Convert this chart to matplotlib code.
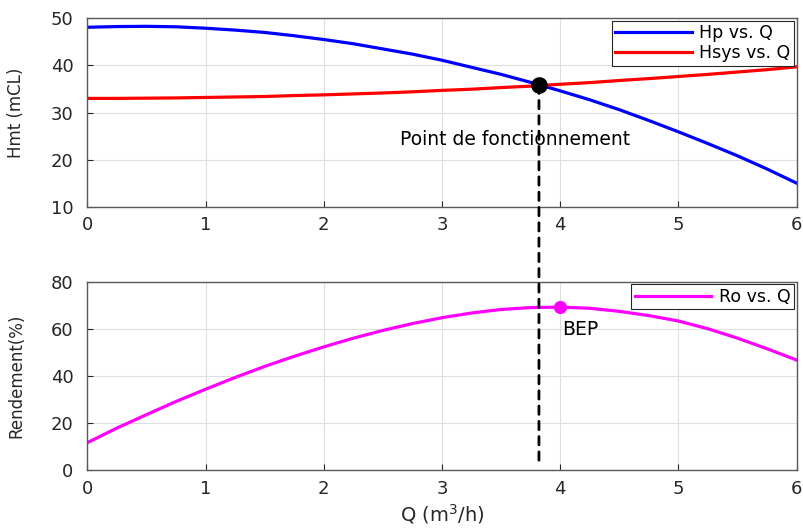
import numpy as np
import matplotlib.pyplot as plt
from matplotlib.patches import ConnectionPatch

plt.rcParams['font.family'] = ['DejaVu Sans']

# Flow rate (m3/h)
q = [0, 0.25, 0.5, 0.75, 1, 1.25, 1.5, 1.75, 2, 2.25, 2.5, 2.75, 3,
     3.25, 3.5, 3.75, 4, 4.25, 4.5, 4.75, 5, 5.25, 5.5, 5.75, 6]

# Pump head curve (mCL)
hp = [48.1, 48.25, 48.3, 48.2, 47.9, 47.5, 47.0, 46.3, 45.5, 44.6, 43.5, 42.4, 41.1,
      39.6, 38.1, 36.4, 34.6, 32.7, 30.6, 28.3, 25.9, 23.4, 20.8, 18.0, 15.0]

# System head curve (mCL)
hsys = [33.0, 33.0, 33.05, 33.1, 33.2, 33.3, 33.4, 33.6, 33.75, 33.95, 34.15, 34.4, 34.7,
        34.95, 35.3, 35.6, 36.0, 36.35, 36.8, 37.2, 37.65, 38.1, 38.6, 39.1, 39.7]

# Pump efficiency (%)
ro = [11.6, 17.8, 23.5, 29.1, 34.3, 39.3, 44.0, 48.3, 52.3, 56.0, 59.3, 62.2, 64.7,
      66.7, 68.2, 69.0, 69.2, 68.7, 67.4, 65.6, 63.3, 60.0, 56.0, 51.5, 46.7]

# Operating point and best efficiency point
q_op, h_op = 3.82, 35.8
q_bep, ro_bep = 4.0, 69.2

txt_col = '#262626'
grid_col = '#dedede'

fig = plt.figure(figsize=(8.04, 5.31), dpi=100)
ax1 = fig.add_axes([0.1086, 0.6107, 0.8823, 0.3548])
ax2 = fig.add_axes([0.1086, 0.1149, 0.8823, 0.3546])

def style(ax):
    ax.grid(True, color=grid_col, linewidth=0.8)
    ax.set_axisbelow(True)
    ax.tick_params(direction='in', length=4, labelsize=13, colors=txt_col,
                   top=False, right=False)
    ax.tick_params(axis='x', pad=7)
    ax.tick_params(axis='y', pad=10)
    for s in ax.spines.values():
        s.set_color('#5a5a5a')
        s.set_linewidth(1.0)
    ax.yaxis.set_label_coords(-0.088, 0.5)

def legend(ax):
    leg = ax.legend(loc='upper right', fontsize=12.5, handlelength=4.4, fancybox=False,
                    edgecolor='#262626', framealpha=1, borderaxespad=0.15,
                    handletextpad=0.45, borderpad=0.2, labelspacing=0.1)
    leg.get_frame().set_linewidth(0.8)

# Head curves
ax1.plot(q, hp, color='#0000ff', lw=2.3, label='Hp vs. Q')
ax1.plot(q, hsys, color='#ff0000', lw=2.3, label='Hsys vs. Q')
ax1.plot(q_op, h_op, 'o', color='black', ms=11, zorder=5)
ax1.text(2.645, 24.2, 'Point de fonctionnement', fontsize=13.5, ha='left', va='center', color='black')
ax1.set_xlim(0, 6)
ax1.set_ylim(10, 50)
ax1.set_yticks([10, 20, 30, 40, 50])
ax1.set_ylabel('Hmt (mCL)', fontsize=12, color=txt_col)
style(ax1)
legend(ax1)

# Efficiency curve
ax2.plot(q, ro, color='#ff00ff', lw=2.3, label='Ro vs. Q')
ax2.plot(q_bep, ro_bep, 'o', color='#ff00ff', ms=8.5, zorder=5)
ax2.text(4.02, 59.5, 'BEP', fontsize=13.5, ha='left', va='center', color='black')
ax2.set_xlim(0, 6)
ax2.set_ylim(0, 80)
ax2.set_yticks([0, 20, 40, 60, 80])
ax2.set_ylabel('Rendement(%)', fontsize=12, color=txt_col)
ax2.set_xlabel('Q (m$^3$/h)', fontsize=14, color=txt_col, labelpad=3)
style(ax2)
legend(ax2)

# Dashed link from the operating point down to the efficiency axis
con = ConnectionPatch(xyA=(q_op, h_op), coordsA=ax1.transData,
                      xyB=(q_op, 3.4), coordsB=ax2.transData,
                      color='black', lw=2, linestyle=(0, (3, 2.5)), zorder=4)
fig.add_artist(con)

fig.savefig('out.png', dpi=100)
